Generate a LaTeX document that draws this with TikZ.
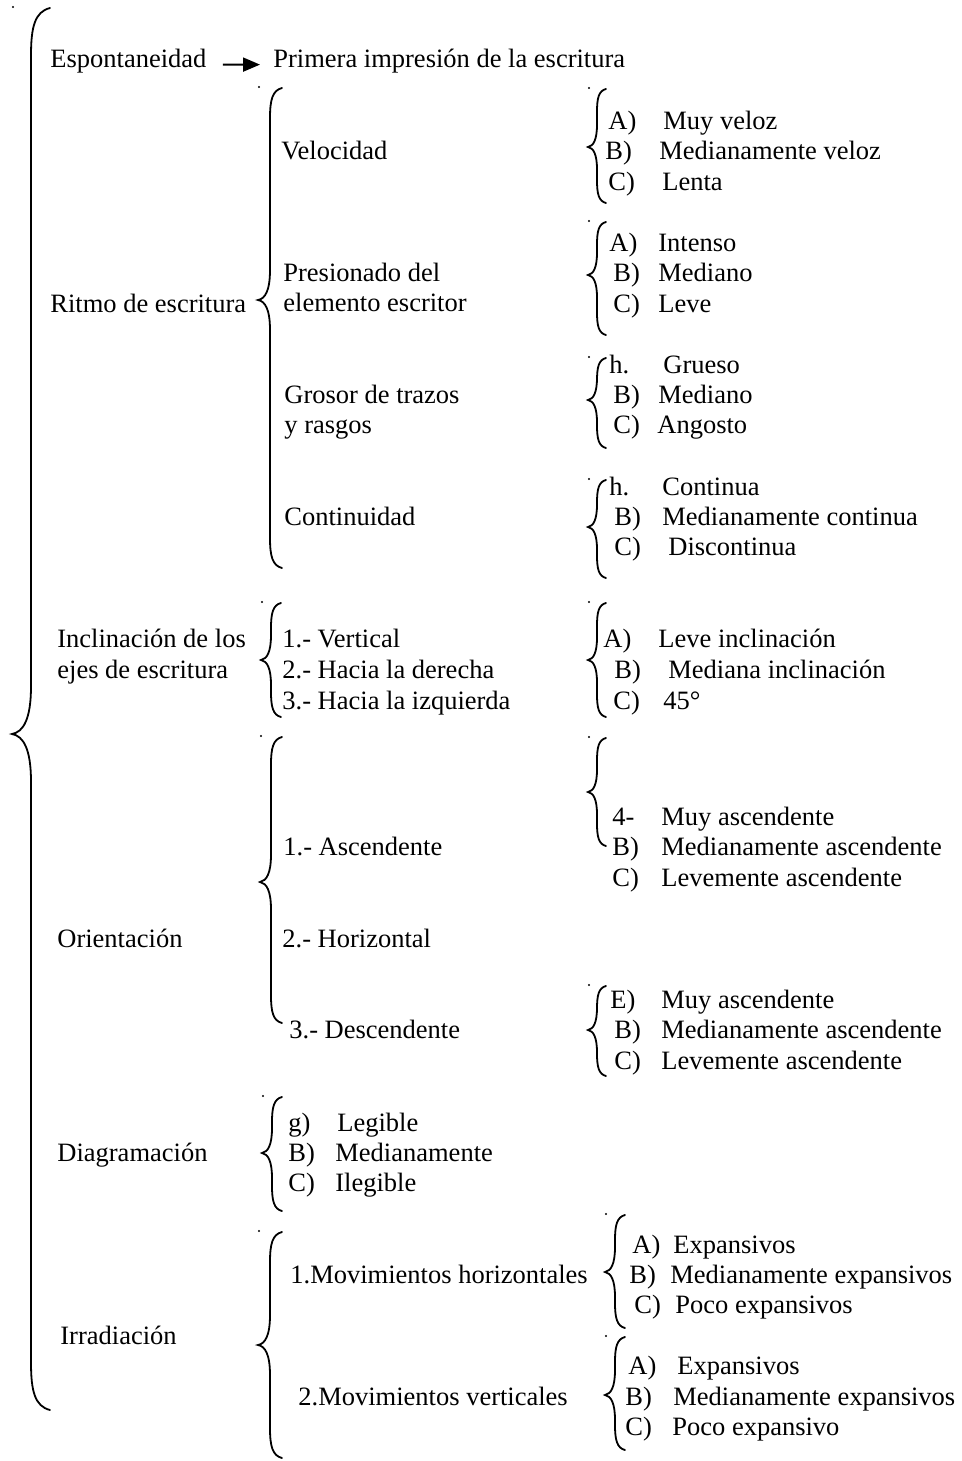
\documentclass[tikz,border=0pt]{standalone}
\usepackage{fontspec}
\setmainfont{Liberation Serif}
\usetikzlibrary{arrows.meta}

% #1 x of the straight part, #2 top, #3 tip, #4 bottom, #5 half width
\newcommand{\curlybr}[5]{%
  \fill (#1-#5+1,#2-1) circle[radius=1.1];
  \draw[bracelin] (#1+#5,#2) .. controls (#1+0.2*#5,#2+0.2*#5) and (#1,#2+#5) .. (#1,#2+2.5*#5)
    -- (#1,#3-2.5*#5) .. controls (#1,#3-0.8*#5) and (#1-0.4*#5,#3-0.1*#5) .. (#1-#5,#3)
    .. controls (#1-0.4*#5,#3+0.1*#5) and (#1,#3+0.8*#5) .. (#1,#3+2.5*#5)
    -- (#1,#4-2.5*#5) .. controls (#1,#4-#5) and (#1+0.2*#5,#4-0.2*#5) .. (#1+#5,#4);}

\begin{document}
\begin{tikzpicture}[x=0.5pt, y=-0.5pt,
                    txt/.style={anchor=base west, inner sep=0pt, yshift=-4.5pt,
                                font=\fontsize{13.25}{15.25}\selectfont},
                    bracelin/.style={line width=0.9pt, line cap=round},
                    arr/.style={-{Triangle[length=8.5pt,width=7pt]}, line width=1pt,
                                shorten <=8pt, shorten >=6.5pt}
                    ]
    \useasboundingbox (0,0) rectangle (962,1461);

    % MAIN BRACE %
    \curlybr{31}{8}{734}{1410}{19}

    % FIRST LEVEL %
    \node[txt] (esp) at (50,59) {Espontaneidad};
    \node[txt] (prim) at (273,59) {Primera impresión de la escritura};
    \draw[arr] ([yshift=-1.5pt]esp.east) -- ([yshift=-1.5pt]prim.west);

    \node[txt] (ritmo) at (50,303) {Ritmo de escritura};
    \node[txt] (incl1) at (57,638) {Inclinación de los};
    \node[txt] (incl2) at (57,669) {ejes de escritura};
    \node[txt] (orient) at (57,938) {Orientación};
    \node[txt] (diag) at (57,1152) {Diagramación};
    \node[txt] (irr) at (60,1335) {Irradiación};

    % RITMO %
    \curlybr{270}{88}{300}{568}{12}
    \node[txt] (vel) at (281,151) {Velocidad};
    \node[txt] (pres1) at (283,272) {Presionado del};
    \node[txt] (pres2) at (283,302) {elemento escritor};
    \node[txt] (gros1) at (284,394) {Grosor de trazos};
    \node[txt] (gros2) at (284,424) {y rasgos};
    \node[txt] (cont) at (284,516) {Continuidad};

    \curlybr{597}{89}{147}{203}{9}
    \foreach \i/\l/\xl/\t/\xt/\y in {1/A)/608/Muy veloz/663/120,
                                     2/B)/605/Medianamente veloz/659/151,
                                     3/C)/608/Lenta/662/181}{
    \node[txt] (velL\i) at (\xl,\y) {\l};
    \node[txt] (velT\i) at (\xt,\y) {\t};
    }

    \curlybr{597}{222}{275}{335}{9}
    \foreach \i/\l/\xl/\t/\xt/\y in {1/A)/609/Intenso/658/242,
                                     2/B)/613/Mediano/658/272,
                                     3/C)/613/Leve/658/303}{
    \node[txt] (presL\i) at (\xl,\y) {\l};
    \node[txt] (presT\i) at (\xt,\y) {\t};
    }

    \curlybr{597}{358}{400}{448}{9}
    \foreach \i/\l/\xl/\t/\xt/\y in {1/h./609/Grueso/663/364,
                                     2/B)/613/Mediano/658/394,
                                     3/C)/613/Angosto/657/424}{
    \node[txt] (grosL\i) at (\xl,\y) {\l};
    \node[txt] (grosT\i) at (\xt,\y) {\t};
    }

    \curlybr{597}{480}{527}{578}{9}
    \foreach \i/\l/\xl/\t/\xt/\y in {1/h./609/Continua/662/486,
                                     2/B)/614/Medianamente continua/662/516,
                                     3/C)/614/Discontinua/668/546}{
    \node[txt] (contL\i) at (\xl,\y) {\l};
    \node[txt] (contT\i) at (\xt,\y) {\t};
    }

    % INCLINACION %
    \curlybr{271}{603}{660}{717}{10}
    \node[txt] (vert) at (282,638) {1.- Vertical};
    \node[txt] (der) at (282,669) {2.- Hacia la derecha};
    \node[txt] (izq) at (282,700) {3.- Hacia la izquierda};

    \curlybr{597}{603}{660}{717}{9}
    \foreach \i/\l/\xl/\t/\xt/\y in {1/A)/603/Leve inclinación/658/638,
                                     2/B)/614/Mediana inclinación/668/669,
                                     3/C)/613/45°/663/700}{
    \node[txt] (inclL\i) at (\xl,\y) {\l};
    \node[txt] (inclT\i) at (\xt,\y) {\t};
    }

    % ORIENTACION %
    \curlybr{271}{737}{882}{1023}{11}
    \node[txt] (asc) at (283,846) {1.- Ascendente};
    \node[txt] (hor) at (282,938) {2.- Horizontal};
    \node[txt] (desc) at (289,1029) {3.- Descendente};

    \curlybr{597}{738}{792}{846}{9}
    \foreach \i/\l/\xl/\t/\xt/\y in {1/4-/612/Muy ascendente/661/816,
                                     2/B)/612/Medianamente ascendente/661/846,
                                     3/C)/612/Levemente ascendente/661/877}{
    \node[txt] (ascL\i) at (\xl,\y) {\l};
    \node[txt] (ascT\i) at (\xt,\y) {\t};
    }

    \curlybr{597}{986}{1030}{1076}{9}
    \foreach \i/\l/\xl/\t/\xt/\y in {1/E)/610/Muy ascendente/661/999,
                                     2/B)/614/Medianamente ascendente/661/1029,
                                     3/C)/614/Levemente ascendente/661/1060}{
    \node[txt] (descL\i) at (\xl,\y) {\l};
    \node[txt] (descT\i) at (\xt,\y) {\t};
    }

    % DIAGRAMACION %
    \curlybr{272}{1097}{1153}{1211}{10}
    \foreach \i/\l/\xl/\t/\xt/\y in {1/g)/288/Legible/337/1122,
                                     2/B)/288/Medianamente/335/1152,
                                     3/C)/288/Ilegible/335/1182}{
    \node[txt] (diagL\i) at (\xl,\y) {\l};
    \node[txt] (diagT\i) at (\xt,\y) {\t};
    }

    % IRRADIACION %
    \curlybr{270}{1232}{1345}{1458}{12}
    \node[txt] (mhor) at (290,1274) {1.Movimientos horizontales};
    \node[txt] (mver) at (298,1396) {2.Movimientos verticales};

    \curlybr{615}{1215}{1272}{1328}{10}
    \foreach \i/\l/\xl/\t/\xt/\y in {1/A)/632/Expansivos/673/1244,
                                     2/B)/629/Medianamente expansivos/670/1274,
                                     3/C)/634/Poco expansivos/675/1304}{
    \node[txt] (mhorL\i) at (\xl,\y) {\l};
    \node[txt] (mhorT\i) at (\xt,\y) {\t};
    }

    \curlybr{615}{1337}{1395}{1450}{10}
    \foreach \i/\l/\xl/\t/\xt/\y in {1/A)/628/Expansivos/677/1365,
                                     2/B)/625/Medianamente expansivos/673/1396,
                                     3/C)/625/Poco expansivo/672/1426}{
    \node[txt] (mverL\i) at (\xl,\y) {\l};
    \node[txt] (mverT\i) at (\xt,\y) {\t};
    }
\end{tikzpicture}
\end{document}
